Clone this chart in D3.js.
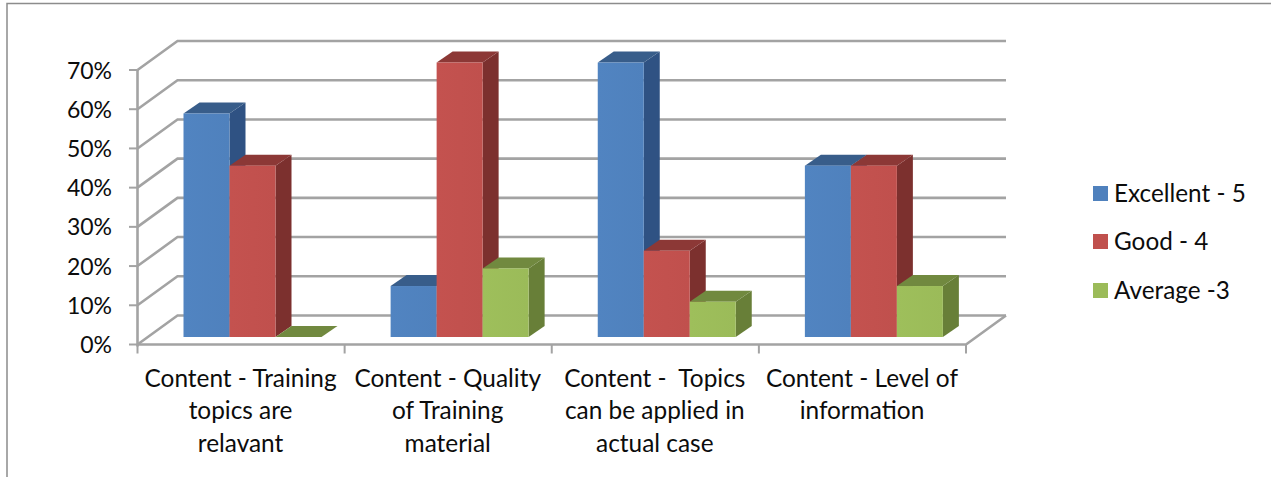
<!DOCTYPE html>
<html>
<head>
<meta charset="utf-8">
<script src="https://cdn.jsdelivr.net/npm/d3@7/dist/d3.min.js"></script>
<style>
html, body { margin: 0; padding: 0; background: #fff; }
svg { display: block; }
text { font-family: Lato, "Open Sans", sans-serif; fill: #0c0c0c; white-space: pre; }
</style>
</head>
<body>
<svg id="chart" width="1271" height="477"></svg>
<script>
// Survey results: share of responses per rating for each content question
const categories = ["Training", "Quality", "Topics", "Level"];
const categoryLines = [
  ["Content - Training", "topics are", "relavant"],
  ["Content - Quality", "of Training", "material"],
  ["Content -  Topics", "can be applied in", "actual case"],
  ["Content - Level of", "information"]
];
const seriesNames = ["Excellent - 5", "Good - 4", "Average -3"];
const excellent = [57, 13, 70, 43.7];
const good = [43.7, 70, 22, 43.7];
const average = [0, 17.5, 9, 13];
const yTicks = [0, 10, 20, 30, 40, 50, 60, 70];

const seriesValues = [excellent, good, average];
const frontColors = ["#4f81bd", "#c0504d", "#9bbb59"];
const topColors = ["#385d8a", "#8c3836", "#71893f"];
const sideColors = ["#2f5283", "#7c302e", "#687f38"];

const svg = d3.select("#chart");

// Outer frame of the chart area, open to the right and bottom
svg.append("path")
  .attr("d", "M1271,3.5H7V477")
  .attr("fill", "none").attr("stroke", "#8c8c8c").attr("stroke-width", 1.5);

// Floor and wall of the pseudo-3D box
const depthX = 40, depthY = -29;
const x = d3.scaleBand().domain(categories).range([137.5, 966]);
const y = d3.scaleLinear().domain([0, 70]).range([344.5, 70]);

const grid = svg.append("g").attr("fill", "none").attr("stroke", "#a3a3a3").attr("stroke-width", 2.6);
yTicks.forEach(t => {
  grid.append("polyline").attr("points", [
    [x.range()[0], y(t)],
    [x.range()[0] + depthX, y(t) + depthY],
    [x.range()[1] + depthX, y(t) + depthY]
  ].join(" "));
});
// Front edge of the floor and its right-hand return
grid.append("polyline").attr("points", [
  [x.range()[0], y(0)],
  [x.range()[1], y(0)],
  [x.range()[1] + depthX, y(0) + depthY]
].join(" "));
// Value axis with tick marks
grid.append("line")
  .attr("x1", x.range()[0]).attr("x2", x.range()[0])
  .attr("y1", y(70)).attr("y2", y(0) + 2);

const ticks = svg.append("g").attr("stroke", "#a3a3a3").attr("stroke-width", 2);
yTicks.forEach(t => {
  ticks.append("line").attr("x1", 129).attr("x2", x.range()[0]).attr("y1", y(t)).attr("y2", y(t));
});
[...categories.map(c => x(c)), x.range()[1]].forEach(px => {
  ticks.append("line").attr("x1", px).attr("x2", px).attr("y1", y(0)).attr("y2", y(0) + 9);
});

// Bars: front face plus top and side faces, drawn back to front within a group
const barW = 46, shiftX = 46, shiftY = -7.5, barDX = 16, barDY = -11;
const gradient = svg.append("defs").selectAll("linearGradient")
  .data(frontColors).join("linearGradient")
  .attr("id", (d, i) => "front" + i);
gradient.append("stop").attr("offset", 0).attr("stop-color", (d) => d3.color(d).brighter(0.06));
gradient.append("stop").attr("offset", 1).attr("stop-color", (d) => d);

categories.forEach((cat, ci) => {
  seriesValues.forEach((vals, si) => {
    const v = vals[ci];
    const x0 = x(cat) + shiftX + si * barW;
    const x1 = x0 + barW;
    const yBase = y(0) + shiftY;
    const yTop = y(v) + shiftY;
    const g = svg.append("g");
    g.append("path")
      .attr("d", `M${x1},${yTop}l${barDX},${barDY}V${yBase + barDY}L${x1},${yBase}Z`)
      .attr("fill", sideColors[si]);
    g.append("path")
      .attr("d", `M${x0},${yTop}l${barDX},${barDY}H${x1 + barDX}L${x1},${yTop}Z`)
      .attr("fill", topColors[si]);
    g.append("rect")
      .attr("x", x0).attr("y", yTop)
      .attr("width", barW).attr("height", yBase - yTop)
      .attr("fill", `url(#front${si})`);
  });
});

// Value labels
svg.append("g").selectAll("text").data(yTicks).join("text")
  .attr("x", 112).attr("y", d => y(d) + 8.5)
  .attr("text-anchor", "end").attr("font-size", 23)
  .text(d => d + "%");

// Category labels on up to three lines
categories.forEach((cat, ci) => {
  const cx = x(cat) + x.bandwidth() / 2 - 0.5;
  categoryLines[ci].forEach((line, li) => {
    svg.append("text")
      .attr("x", cx).attr("y", 386.5 + li * 32.5)
      .attr("text-anchor", "middle").attr("font-size", 24.4)
      .text(line);
  });
});

// Legend
const legendY = [186, 234, 283];
seriesNames.forEach((name, i) => {
  svg.append("rect").attr("x", 1093).attr("y", legendY[i])
    .attr("width", 15).attr("height", 15).attr("fill", frontColors[i]);
  svg.append("text").attr("x", 1114).attr("y", legendY[i] + 16)
    .attr("font-size", 24.3).text(name);
});
</script>
</body>
</html>
